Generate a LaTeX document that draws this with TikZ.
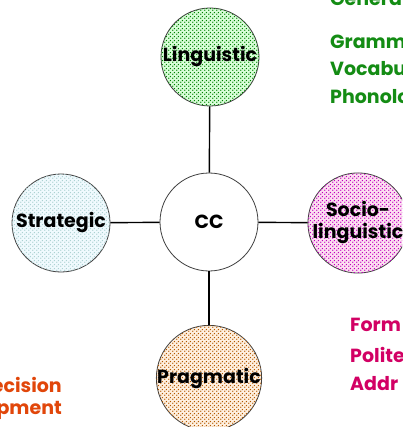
\documentclass[tikz,border=0pt]{standalone}
\usepackage{fontspec}
\setmainfont{Poppins}
\usetikzlibrary{patterns.meta}
\definecolor{ggreen}{RGB}{20,140,20}
\definecolor{gpink}{RGB}{210,0,100}
\definecolor{gorange}{RGB}{225,70,10}
\tikzdeclarepattern{
  name=bigdots, type=uncolored,
  bottom left={(0pt,0pt)}, top right={(4pt,4pt)}, tile size={(4pt,4pt)},
  code={\fill (1pt,1pt) circle (0.9pt); \fill (3pt,3pt) circle (0.9pt);}
}
\tikzset{
  comp/.style={circle, draw=black!75, line width=0.8pt, minimum size=98pt, inner sep=0pt,
    font=\bfseries\fontsize{19}{22}\selectfont, text=black, align=center},
  link/.style={line width=1.4pt, black},
  glab/.style={anchor=west, inner sep=0pt, text=ggreen, font=\bfseries\fontsize{19}{20}\selectfont},
  plab/.style={anchor=west, inner sep=0pt, text=gpink, font=\bfseries\fontsize{19}{20}\selectfont},
  olab/.style={anchor=east, inner sep=0pt, text=gorange, font=\bfseries\fontsize{19}{20}\selectfont},
}
\begin{document}
\begin{tikzpicture}[x=1pt,y=-1pt]
\useasboundingbox (0,0) rectangle (402,427);
\clip (0,0) rectangle (402,427);
\fill[white] (0,0) rectangle (402,427);
\node[comp] (cc) at (209,222) {CC};
\node[comp, fill=green!15, postaction={pattern=bigdots, pattern color=green!50!black}] (ling) at (210,57) {Linguistic};
\node[comp, fill=cyan!6, postaction={pattern=bigdots, pattern color=cyan!30!gray!50}] (strat) at (61,223) {Strategic};
\node[comp, fill=magenta!12, postaction={pattern=bigdots, pattern color=magenta!75!black}] (socio) at (358,223) {Socio-\\linguistic};
\node[comp, fill=orange!12, postaction={pattern=bigdots, pattern color=orange!70!black}] (prag) at (209,378) {Pragmatic};
\draw[link] (cc) -- (ling);
\draw[link] (cc) -- (strat);
\draw[link] (cc) -- (socio);
\draw[link] (cc) -- (prag);
\node[glab] (g1) at (330,-1) {Genera};
\node[glab] (g2) at (330,42) {Gramm};
\node[glab] (g3) at (330,69) {Vocabu};
\node[glab] (g4) at (330,97) {Phonolo};
\node[plab] (p1) at (350,325) {Form};
\node[plab] (p2) at (350,355) {Polite};
\node[plab] (p3) at (350,384) {Addr};
\node[olab] (o1) at (62,385) {ecision};
\node[olab] (o2) at (62,410) {opment};
\end{tikzpicture}
\end{document}
